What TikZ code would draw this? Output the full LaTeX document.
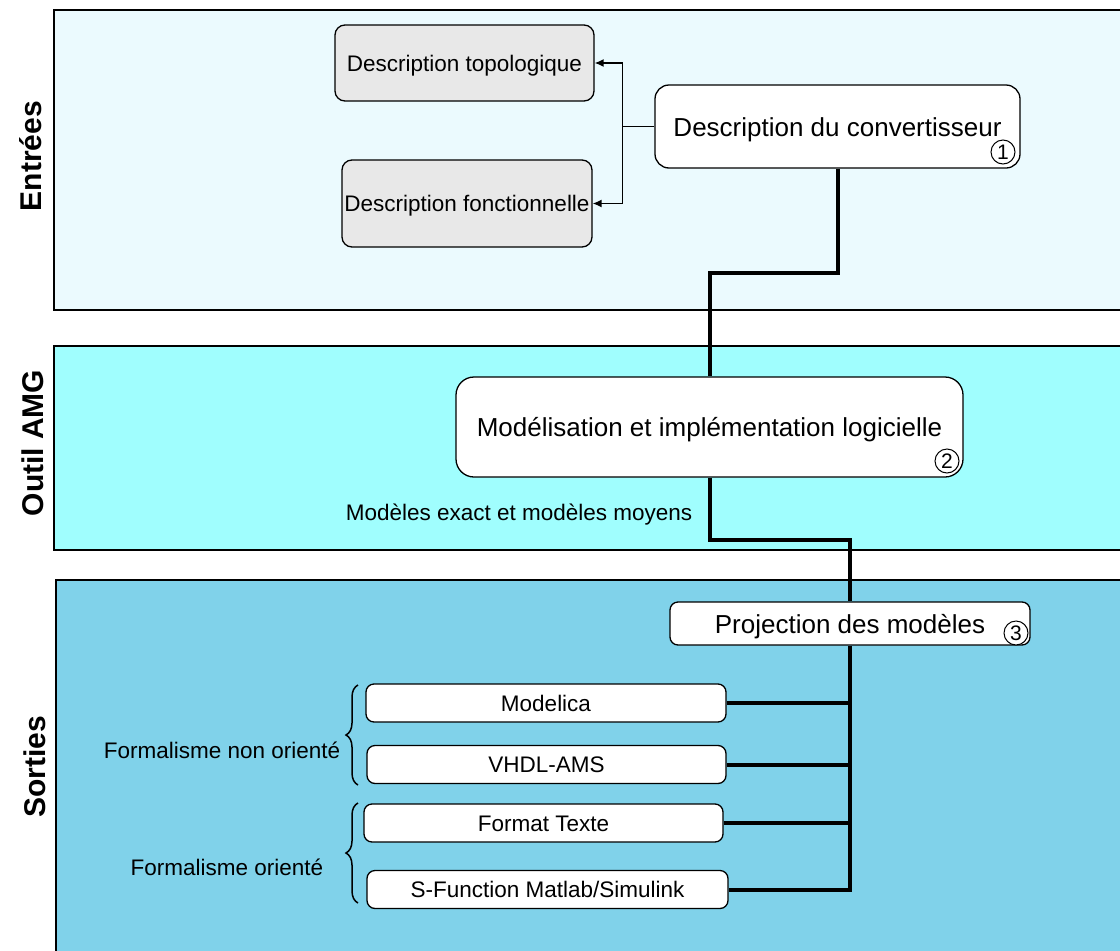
\documentclass[tikz,border=0pt]{standalone}
\usepackage{fontspec}
\setmainfont{Liberation Sans}
\usetikzlibrary{arrows.meta,decorations.pathreplacing}

\definecolor{bandIn}{HTML}{EBFAFE}
\definecolor{bandTool}{HTML}{A0FEFE}
\definecolor{bandOut}{HTML}{80D2EA}
\definecolor{boxGray}{HTML}{E8E8E8}

\newcommand{\smalltxt}{\fontsize{22.5}{26}\selectfont}
\newcommand{\bigtxt}{\fontsize{26}{30}\selectfont}
\newcommand{\sidetxt}{\fontsize{30}{34}\selectfont\bfseries}
\newcommand{\numtxt}{\fontsize{21}{23}\selectfont}

\tikzset{
  band/.style={draw=black, line width=2pt},
  graybox/.style={draw=black, line width=1.3pt, fill=boxGray, rounded corners=10pt,
    inner sep=0pt, font=\smalltxt, text height=16pt, text depth=0pt},
  whitebox/.style={draw=black, line width=1.3pt, fill=white, rounded corners=14pt,
    inner sep=0pt, font=\bigtxt, text height=19pt, text depth=0pt},
  outbox/.style={draw=black, line width=1.3pt, fill=white, rounded corners=8pt,
    inner sep=0pt, minimum height=38pt, font=\smalltxt, text height=16pt, text depth=0pt},
  numcircle/.style={circle, draw=black, line width=1pt, fill=white, inner sep=0pt,
    minimum size=24pt, font=\numtxt},
  sidelabel/.style={rotate=90, font=\sidetxt},
  plainlabel/.style={font=\smalltxt, inner sep=0pt, text height=16pt, text depth=0pt},
  thinlink/.style={line width=1.4pt},
  arrowlink/.style={line width=1.4pt, -{Latex[length=9pt,width=8pt]}},
  thicklink/.style={line width=4pt},
  bracket/.style={decorate, decoration={brace, amplitude=12pt}, line width=1.5pt}
}

\begin{document}
\begin{tikzpicture}[x=1pt, y=-1pt]
  \clip (0,0) rectangle (1120,951);
  \fill[white] (0,0) rectangle (1120,951);

  % horizontal bands
  \draw[band, fill=bandIn]   (54,10)  rectangle (1140,310);
  \draw[band, fill=bandTool] (54,346) rectangle (1140,550);
  \draw[band, fill=bandOut]  (56,580) rectangle (1140,980);

  % band titles
  \node[sidelabel] (tIn)   at (31,156) {Entrées};
  \node[sidelabel] (tTool) at (33,443) {Outil AMG};
  \node[sidelabel] (tOut)  at (35,767) {Sorties};

  % inputs
  \node[graybox, minimum width=259pt, minimum height=76pt] (topo) at (464.5,63) {Description topologique};
  \node[graybox, minimum width=250pt, minimum height=87pt] (fonc) at (467,203.5) {Description fonctionnelle};
  \node[whitebox, minimum width=365pt, minimum height=83pt] (conv) at (837.5,126.5) {Description du convertisseur};
  \node[numcircle] (n1) at (1003,152) {1};

  % tool
  \node[whitebox, rounded corners=18pt, minimum width=507pt, minimum height=100pt] (mod) at (709.5,427) {Modélisation et implémentation logicielle};
  \node[numcircle] (n2) at (947,461) {2};
  \node[plainlabel] (mlab) at (519,512) {Modèles exact et modèles moyens};

  % outputs
  \node[whitebox, rounded corners=8pt, minimum width=360pt, minimum height=43pt] (proj) at (850,623.5) {Projection des modèles};
  \node[numcircle] (n3) at (1016,633) {3};

  \node[outbox, minimum width=360pt] (modelica) at (546,703)   {Modelica};
  \node[outbox, minimum width=359pt] (vhdl)     at (546.5,764.5) {VHDL-AMS};
  \node[outbox, minimum width=359pt] (ftxt)     at (543.5,823) {Format Texte};
  \node[outbox, minimum width=361pt] (sfun)     at (547.5,889.5) {S-Function Matlab/Simulink};

  % groupings
  \draw[bracket] (358,785) -- (358,685);
  \draw[bracket] (358,903) -- (358,803);
  \node[plainlabel] (fno) at (222,750) {Formalisme non orienté};
  \node[plainlabel] (fo)  at (227,867) {Formalisme orienté};

  % converter description split into its two views
  \draw[thinlink] (conv.west) -- ++(-32,0) coordinate (split);
  \draw[arrowlink] (split) |- (topo.east);
  \draw[arrowlink] (split) |- (fonc.east);

  % main flow
  \draw[thicklink] (conv.south) -- (conv.south |- 0,273) -| (mod.north);
  \draw[thicklink] (mod.south) -- (mod.south |- 0,540) -| (proj.north);
  \draw[thicklink] (proj.south) |- (sfun.east);
  \draw[thicklink] (modelica.east) -- (modelica.east -| proj.south);
  \draw[thicklink] (vhdl.east) -- (vhdl.east -| proj.south);
  \draw[thicklink] (ftxt.east) -- (ftxt.east -| proj.south);
\end{tikzpicture}
\end{document}
